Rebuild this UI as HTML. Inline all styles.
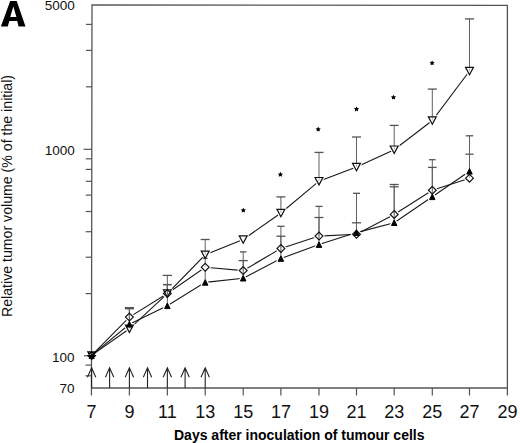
<!DOCTYPE html>
<html><head><meta charset="utf-8"><style>
html,body{margin:0;padding:0;background:#fff;}
body{width:520px;height:443px;overflow:hidden;position:relative;font-family:"Liberation Sans",sans-serif;}
svg{position:absolute;left:0;top:0;}
.t{position:absolute;white-space:nowrap;color:#111;line-height:1;}
</style></head><body>
<svg width="520" height="443" viewBox="0 0 520 443">
<path d="M91.45,395.6 L92.0,4.95 L507.4,5.3 L507.4,395.5" fill="none" stroke="#555" stroke-width="1.3"/>
<line x1="91.60" y1="388.00" x2="507.40" y2="388.00" stroke="#555" stroke-width="1.3"/>
<line x1="129.40" y1="388.00" x2="129.40" y2="395.50" stroke="#555" stroke-width="1.2"/>
<line x1="167.35" y1="388.00" x2="167.35" y2="395.50" stroke="#555" stroke-width="1.2"/>
<line x1="205.20" y1="388.00" x2="205.20" y2="395.50" stroke="#555" stroke-width="1.2"/>
<line x1="243.20" y1="388.00" x2="243.20" y2="395.50" stroke="#555" stroke-width="1.2"/>
<line x1="280.90" y1="388.00" x2="280.90" y2="395.50" stroke="#555" stroke-width="1.2"/>
<line x1="319.00" y1="388.00" x2="319.00" y2="395.50" stroke="#555" stroke-width="1.2"/>
<line x1="356.50" y1="388.00" x2="356.50" y2="395.50" stroke="#555" stroke-width="1.2"/>
<line x1="394.20" y1="388.00" x2="394.20" y2="395.50" stroke="#555" stroke-width="1.2"/>
<line x1="432.30" y1="388.00" x2="432.30" y2="395.50" stroke="#555" stroke-width="1.2"/>
<line x1="469.50" y1="388.00" x2="469.50" y2="395.50" stroke="#555" stroke-width="1.2"/>
<line x1="85.97" y1="24.40" x2="91.97" y2="24.40" stroke="#555" stroke-width="1.2"/>
<line x1="85.94" y1="50.40" x2="91.94" y2="50.40" stroke="#555" stroke-width="1.2"/>
<line x1="85.88" y1="86.80" x2="91.88" y2="86.80" stroke="#555" stroke-width="1.2"/>
<line x1="83.60" y1="149.30" x2="91.80" y2="149.30" stroke="#555" stroke-width="1.2"/>
<line x1="85.78" y1="158.80" x2="91.78" y2="158.80" stroke="#555" stroke-width="1.2"/>
<line x1="85.77" y1="169.40" x2="91.77" y2="169.40" stroke="#555" stroke-width="1.2"/>
<line x1="85.75" y1="181.30" x2="91.75" y2="181.30" stroke="#555" stroke-width="1.2"/>
<line x1="85.73" y1="195.10" x2="91.73" y2="195.10" stroke="#555" stroke-width="1.2"/>
<line x1="85.71" y1="211.50" x2="91.71" y2="211.50" stroke="#555" stroke-width="1.2"/>
<line x1="85.68" y1="231.70" x2="91.68" y2="231.70" stroke="#555" stroke-width="1.2"/>
<line x1="85.64" y1="257.20" x2="91.64" y2="257.20" stroke="#555" stroke-width="1.2"/>
<line x1="85.59" y1="293.60" x2="91.59" y2="293.60" stroke="#555" stroke-width="1.2"/>
<line x1="84.01" y1="355.80" x2="91.51" y2="355.80" stroke="#555" stroke-width="1.2"/>
<line x1="85.49" y1="365.10" x2="91.49" y2="365.10" stroke="#555" stroke-width="1.2"/>
<line x1="85.48" y1="375.80" x2="91.48" y2="375.80" stroke="#555" stroke-width="1.2"/>
<path d="M91.60,388.0 L91.60,367.8 M87.40,377.2 L91.60,367.8 L95.80,377.2" fill="none" stroke="#222" stroke-width="1.1"/>
<path d="M109.60,388.0 L109.60,367.8 M105.40,377.2 L109.60,367.8 L113.80,377.2" fill="none" stroke="#222" stroke-width="1.1"/>
<path d="M129.40,388.0 L129.40,367.8 M125.20,377.2 L129.40,367.8 L133.60,377.2" fill="none" stroke="#222" stroke-width="1.1"/>
<path d="M147.50,388.0 L147.50,367.8 M143.30,377.2 L147.50,367.8 L151.70,377.2" fill="none" stroke="#222" stroke-width="1.1"/>
<path d="M167.35,388.0 L167.35,367.8 M163.15,377.2 L167.35,367.8 L171.55,377.2" fill="none" stroke="#222" stroke-width="1.1"/>
<path d="M185.10,388.0 L185.10,367.8 M180.90,377.2 L185.10,367.8 L189.30,377.2" fill="none" stroke="#222" stroke-width="1.1"/>
<path d="M205.20,388.0 L205.20,367.8 M201.00,377.2 L205.20,367.8 L209.40,377.2" fill="none" stroke="#222" stroke-width="1.1"/>
<polyline points="91.60,355.40 129.40,328.80 167.35,293.60 205.20,254.80 243.20,239.50 280.90,213.00 319.00,181.20 356.50,167.00 394.20,149.70 432.30,120.50 469.50,71.00" fill="none" stroke="#1a1a1a" stroke-width="1.1"/>
<polyline points="91.60,355.40 129.40,317.10 167.35,293.50 205.20,267.20 243.20,270.60 280.90,248.40 319.00,236.10 356.50,234.30 394.20,214.40 432.30,190.25 469.50,178.20" fill="none" stroke="#1a1a1a" stroke-width="1.1"/>
<polyline points="91.60,355.40 129.40,324.30 167.35,305.80 205.20,282.40 243.20,278.20 280.90,258.50 319.00,244.60 356.50,232.60 394.20,222.70 432.30,196.80 469.50,171.30" fill="none" stroke="#1a1a1a" stroke-width="1.1"/>
<path d="M125.45,325.10 L133.35,325.10 L129.40,332.50 Z" fill="#fff" stroke="#fff" stroke-width="3.5" stroke-linejoin="round"/>
<path d="M163.40,289.90 L171.30,289.90 L167.35,297.30 Z" fill="#fff" stroke="#fff" stroke-width="3.5" stroke-linejoin="round"/>
<path d="M201.25,251.10 L209.15,251.10 L205.20,258.50 Z" fill="#fff" stroke="#fff" stroke-width="3.5" stroke-linejoin="round"/>
<path d="M239.25,235.80 L247.15,235.80 L243.20,243.20 Z" fill="#fff" stroke="#fff" stroke-width="3.5" stroke-linejoin="round"/>
<path d="M276.95,209.30 L284.85,209.30 L280.90,216.70 Z" fill="#fff" stroke="#fff" stroke-width="3.5" stroke-linejoin="round"/>
<path d="M315.05,177.50 L322.95,177.50 L319.00,184.90 Z" fill="#fff" stroke="#fff" stroke-width="3.5" stroke-linejoin="round"/>
<path d="M352.55,163.30 L360.45,163.30 L356.50,170.70 Z" fill="#fff" stroke="#fff" stroke-width="3.5" stroke-linejoin="round"/>
<path d="M390.25,146.00 L398.15,146.00 L394.20,153.40 Z" fill="#fff" stroke="#fff" stroke-width="3.5" stroke-linejoin="round"/>
<path d="M428.35,116.80 L436.25,116.80 L432.30,124.20 Z" fill="#fff" stroke="#fff" stroke-width="3.5" stroke-linejoin="round"/>
<path d="M465.55,67.30 L473.45,67.30 L469.50,74.70 Z" fill="#fff" stroke="#fff" stroke-width="3.5" stroke-linejoin="round"/>
<path d="M129.40,313.20 L133.30,317.10 L129.40,321.00 L125.50,317.10 Z" fill="#fff" stroke="#fff" stroke-width="3.5" stroke-linejoin="round"/>
<path d="M167.35,289.60 L171.25,293.50 L167.35,297.40 L163.45,293.50 Z" fill="#fff" stroke="#fff" stroke-width="3.5" stroke-linejoin="round"/>
<path d="M205.20,263.30 L209.10,267.20 L205.20,271.10 L201.30,267.20 Z" fill="#fff" stroke="#fff" stroke-width="3.5" stroke-linejoin="round"/>
<path d="M243.20,266.70 L247.10,270.60 L243.20,274.50 L239.30,270.60 Z" fill="#fff" stroke="#fff" stroke-width="3.5" stroke-linejoin="round"/>
<path d="M280.90,244.50 L284.80,248.40 L280.90,252.30 L277.00,248.40 Z" fill="#fff" stroke="#fff" stroke-width="3.5" stroke-linejoin="round"/>
<path d="M319.00,232.20 L322.90,236.10 L319.00,240.00 L315.10,236.10 Z" fill="#fff" stroke="#fff" stroke-width="3.5" stroke-linejoin="round"/>
<path d="M356.50,230.40 L360.40,234.30 L356.50,238.20 L352.60,234.30 Z" fill="#fff" stroke="#fff" stroke-width="3.5" stroke-linejoin="round"/>
<path d="M394.20,210.50 L398.10,214.40 L394.20,218.30 L390.30,214.40 Z" fill="#fff" stroke="#fff" stroke-width="3.5" stroke-linejoin="round"/>
<path d="M432.30,186.35 L436.20,190.25 L432.30,194.15 L428.40,190.25 Z" fill="#fff" stroke="#fff" stroke-width="3.5" stroke-linejoin="round"/>
<path d="M469.50,174.30 L473.40,178.20 L469.50,182.10 L465.60,178.20 Z" fill="#fff" stroke="#fff" stroke-width="3.5" stroke-linejoin="round"/>
<path d="M129.40,321.50 L132.15,327.10 L126.65,327.10 Z" fill="#fff" stroke="#fff" stroke-width="3.5" stroke-linejoin="round"/>
<path d="M167.35,303.00 L170.10,308.60 L164.60,308.60 Z" fill="#fff" stroke="#fff" stroke-width="3.5" stroke-linejoin="round"/>
<path d="M205.20,279.60 L207.95,285.20 L202.45,285.20 Z" fill="#fff" stroke="#fff" stroke-width="3.5" stroke-linejoin="round"/>
<path d="M243.20,275.40 L245.95,281.00 L240.45,281.00 Z" fill="#fff" stroke="#fff" stroke-width="3.5" stroke-linejoin="round"/>
<path d="M280.90,255.70 L283.65,261.30 L278.15,261.30 Z" fill="#fff" stroke="#fff" stroke-width="3.5" stroke-linejoin="round"/>
<path d="M319.00,241.80 L321.75,247.40 L316.25,247.40 Z" fill="#fff" stroke="#fff" stroke-width="3.5" stroke-linejoin="round"/>
<path d="M356.50,229.80 L359.25,235.40 L353.75,235.40 Z" fill="#fff" stroke="#fff" stroke-width="3.5" stroke-linejoin="round"/>
<path d="M394.20,219.90 L396.95,225.50 L391.45,225.50 Z" fill="#fff" stroke="#fff" stroke-width="3.5" stroke-linejoin="round"/>
<path d="M432.30,194.00 L435.05,199.60 L429.55,199.60 Z" fill="#fff" stroke="#fff" stroke-width="3.5" stroke-linejoin="round"/>
<path d="M469.50,168.50 L472.25,174.10 L466.75,174.10 Z" fill="#fff" stroke="#fff" stroke-width="3.5" stroke-linejoin="round"/>
<line x1="129.40" y1="308.60" x2="129.40" y2="325.10" stroke="#606060" stroke-width="1.0"/>
<line x1="129.40" y1="325.10" x2="129.40" y2="328.80" stroke="#bbb" stroke-width="1.0"/>
<line x1="124.90" y1="308.60" x2="133.90" y2="308.60" stroke="#555" stroke-width="1.3"/>
<line x1="167.35" y1="275.40" x2="167.35" y2="289.90" stroke="#606060" stroke-width="1.0"/>
<line x1="167.35" y1="289.90" x2="167.35" y2="293.60" stroke="#bbb" stroke-width="1.0"/>
<line x1="162.65" y1="275.40" x2="172.05" y2="275.40" stroke="#555" stroke-width="1.3"/>
<line x1="205.20" y1="239.50" x2="205.20" y2="251.10" stroke="#606060" stroke-width="1.0"/>
<line x1="205.20" y1="251.10" x2="205.20" y2="254.80" stroke="#bbb" stroke-width="1.0"/>
<line x1="200.70" y1="239.50" x2="209.70" y2="239.50" stroke="#555" stroke-width="1.3"/>
<line x1="280.90" y1="196.90" x2="280.90" y2="209.30" stroke="#606060" stroke-width="1.0"/>
<line x1="280.90" y1="209.30" x2="280.90" y2="213.00" stroke="#bbb" stroke-width="1.0"/>
<line x1="276.40" y1="196.90" x2="285.40" y2="196.90" stroke="#555" stroke-width="1.3"/>
<line x1="319.00" y1="152.40" x2="319.00" y2="177.50" stroke="#606060" stroke-width="1.0"/>
<line x1="319.00" y1="177.50" x2="319.00" y2="181.20" stroke="#bbb" stroke-width="1.0"/>
<line x1="314.50" y1="152.40" x2="323.50" y2="152.40" stroke="#555" stroke-width="1.3"/>
<line x1="356.50" y1="137.00" x2="356.50" y2="163.30" stroke="#606060" stroke-width="1.0"/>
<line x1="356.50" y1="163.30" x2="356.50" y2="167.00" stroke="#bbb" stroke-width="1.0"/>
<line x1="352.00" y1="137.00" x2="361.00" y2="137.00" stroke="#555" stroke-width="1.3"/>
<line x1="394.20" y1="125.40" x2="394.20" y2="146.00" stroke="#606060" stroke-width="1.0"/>
<line x1="394.20" y1="146.00" x2="394.20" y2="149.70" stroke="#bbb" stroke-width="1.0"/>
<line x1="389.70" y1="125.40" x2="398.70" y2="125.40" stroke="#555" stroke-width="1.3"/>
<line x1="432.30" y1="89.10" x2="432.30" y2="116.80" stroke="#606060" stroke-width="1.0"/>
<line x1="432.30" y1="116.80" x2="432.30" y2="120.50" stroke="#bbb" stroke-width="1.0"/>
<line x1="427.80" y1="89.10" x2="436.80" y2="89.10" stroke="#555" stroke-width="1.3"/>
<line x1="469.50" y1="18.90" x2="469.50" y2="67.30" stroke="#606060" stroke-width="1.0"/>
<line x1="469.50" y1="67.30" x2="469.50" y2="71.00" stroke="#bbb" stroke-width="1.0"/>
<line x1="465.00" y1="18.90" x2="474.00" y2="18.90" stroke="#555" stroke-width="1.3"/>
<line x1="129.40" y1="307.60" x2="129.40" y2="313.20" stroke="#606060" stroke-width="1.0"/>
<line x1="129.40" y1="313.20" x2="129.40" y2="317.10" stroke="#bbb" stroke-width="1.0"/>
<line x1="124.90" y1="307.60" x2="133.90" y2="307.60" stroke="#555" stroke-width="1.3"/>
<line x1="167.35" y1="284.60" x2="167.35" y2="289.60" stroke="#606060" stroke-width="1.0"/>
<line x1="167.35" y1="289.60" x2="167.35" y2="293.50" stroke="#bbb" stroke-width="1.0"/>
<line x1="163.05" y1="284.60" x2="171.65" y2="284.60" stroke="#555" stroke-width="1.3"/>
<line x1="205.20" y1="258.30" x2="205.20" y2="263.30" stroke="#606060" stroke-width="1.0"/>
<line x1="205.20" y1="263.30" x2="205.20" y2="267.20" stroke="#bbb" stroke-width="1.0"/>
<line x1="202.70" y1="258.30" x2="207.70" y2="258.30" stroke="#555" stroke-width="1.3"/>
<line x1="243.20" y1="251.90" x2="243.20" y2="266.70" stroke="#606060" stroke-width="1.0"/>
<line x1="243.20" y1="266.70" x2="243.20" y2="270.60" stroke="#bbb" stroke-width="1.0"/>
<line x1="240.00" y1="251.90" x2="246.40" y2="251.90" stroke="#555" stroke-width="1.3"/>
<line x1="280.90" y1="226.30" x2="280.90" y2="244.50" stroke="#606060" stroke-width="1.0"/>
<line x1="280.90" y1="244.50" x2="280.90" y2="248.40" stroke="#bbb" stroke-width="1.0"/>
<line x1="277.20" y1="226.30" x2="284.60" y2="226.30" stroke="#555" stroke-width="1.3"/>
<line x1="319.00" y1="206.40" x2="319.00" y2="232.20" stroke="#606060" stroke-width="1.0"/>
<line x1="319.00" y1="232.20" x2="319.00" y2="236.10" stroke="#bbb" stroke-width="1.0"/>
<line x1="315.40" y1="206.40" x2="322.60" y2="206.40" stroke="#555" stroke-width="1.3"/>
<line x1="356.50" y1="193.30" x2="356.50" y2="230.40" stroke="#606060" stroke-width="1.0"/>
<line x1="356.50" y1="230.40" x2="356.50" y2="234.30" stroke="#bbb" stroke-width="1.0"/>
<line x1="353.00" y1="193.30" x2="360.00" y2="193.30" stroke="#555" stroke-width="1.3"/>
<line x1="394.20" y1="184.50" x2="394.20" y2="210.50" stroke="#606060" stroke-width="1.0"/>
<line x1="394.20" y1="210.50" x2="394.20" y2="214.40" stroke="#bbb" stroke-width="1.0"/>
<line x1="389.70" y1="184.50" x2="398.70" y2="184.50" stroke="#555" stroke-width="1.3"/>
<line x1="432.30" y1="159.70" x2="432.30" y2="186.35" stroke="#606060" stroke-width="1.0"/>
<line x1="432.30" y1="186.35" x2="432.30" y2="190.25" stroke="#bbb" stroke-width="1.0"/>
<line x1="429.00" y1="159.70" x2="435.60" y2="159.70" stroke="#555" stroke-width="1.3"/>
<line x1="469.50" y1="154.20" x2="469.50" y2="174.30" stroke="#606060" stroke-width="1.0"/>
<line x1="469.50" y1="174.30" x2="469.50" y2="178.20" stroke="#bbb" stroke-width="1.0"/>
<line x1="465.40" y1="154.20" x2="473.60" y2="154.20" stroke="#555" stroke-width="1.3"/>
<line x1="129.40" y1="308.60" x2="129.40" y2="321.50" stroke="#606060" stroke-width="1.0"/>
<line x1="129.40" y1="321.50" x2="129.40" y2="324.30" stroke="#bbb" stroke-width="1.0"/>
<line x1="124.90" y1="308.60" x2="133.90" y2="308.60" stroke="#555" stroke-width="1.3"/>
<line x1="167.35" y1="284.60" x2="167.35" y2="303.00" stroke="#606060" stroke-width="1.0"/>
<line x1="167.35" y1="303.00" x2="167.35" y2="305.80" stroke="#bbb" stroke-width="1.0"/>
<line x1="163.05" y1="284.60" x2="171.65" y2="284.60" stroke="#555" stroke-width="1.3"/>
<line x1="205.20" y1="270.50" x2="205.20" y2="279.60" stroke="#606060" stroke-width="1.0"/>
<line x1="205.20" y1="279.60" x2="205.20" y2="282.40" stroke="#bbb" stroke-width="1.0"/>
<line x1="243.20" y1="260.60" x2="243.20" y2="275.40" stroke="#606060" stroke-width="1.0"/>
<line x1="243.20" y1="275.40" x2="243.20" y2="278.20" stroke="#bbb" stroke-width="1.0"/>
<line x1="238.60" y1="260.60" x2="247.80" y2="260.60" stroke="#555" stroke-width="1.3"/>
<line x1="280.90" y1="236.20" x2="280.90" y2="255.70" stroke="#606060" stroke-width="1.0"/>
<line x1="280.90" y1="255.70" x2="280.90" y2="258.50" stroke="#bbb" stroke-width="1.0"/>
<line x1="276.40" y1="236.20" x2="285.40" y2="236.20" stroke="#555" stroke-width="1.3"/>
<line x1="319.00" y1="217.50" x2="319.00" y2="241.80" stroke="#606060" stroke-width="1.0"/>
<line x1="319.00" y1="241.80" x2="319.00" y2="244.60" stroke="#bbb" stroke-width="1.0"/>
<line x1="314.50" y1="217.50" x2="323.50" y2="217.50" stroke="#555" stroke-width="1.3"/>
<line x1="356.50" y1="222.80" x2="356.50" y2="229.80" stroke="#606060" stroke-width="1.0"/>
<line x1="356.50" y1="229.80" x2="356.50" y2="232.60" stroke="#bbb" stroke-width="1.0"/>
<line x1="351.90" y1="222.80" x2="361.10" y2="222.80" stroke="#555" stroke-width="1.3"/>
<line x1="394.20" y1="186.80" x2="394.20" y2="219.90" stroke="#606060" stroke-width="1.0"/>
<line x1="394.20" y1="219.90" x2="394.20" y2="222.70" stroke="#bbb" stroke-width="1.0"/>
<line x1="389.70" y1="186.80" x2="398.70" y2="186.80" stroke="#555" stroke-width="1.3"/>
<line x1="432.30" y1="167.40" x2="432.30" y2="194.00" stroke="#606060" stroke-width="1.0"/>
<line x1="432.30" y1="194.00" x2="432.30" y2="196.80" stroke="#bbb" stroke-width="1.0"/>
<line x1="427.95" y1="167.40" x2="436.65" y2="167.40" stroke="#555" stroke-width="1.3"/>
<line x1="469.50" y1="135.80" x2="469.50" y2="168.50" stroke="#606060" stroke-width="1.0"/>
<line x1="469.50" y1="168.50" x2="469.50" y2="171.30" stroke="#bbb" stroke-width="1.0"/>
<line x1="465.80" y1="135.80" x2="473.20" y2="135.80" stroke="#555" stroke-width="1.3"/>
<path d="M129.40,313.20 L133.30,317.10 L129.40,321.00 L125.50,317.10 Z" fill="none" stroke="#111" stroke-width="1.2"/>
<path d="M167.35,289.60 L171.25,293.50 L167.35,297.40 L163.45,293.50 Z" fill="none" stroke="#111" stroke-width="1.2"/>
<path d="M205.20,263.30 L209.10,267.20 L205.20,271.10 L201.30,267.20 Z" fill="none" stroke="#111" stroke-width="1.2"/>
<path d="M243.20,266.70 L247.10,270.60 L243.20,274.50 L239.30,270.60 Z" fill="none" stroke="#111" stroke-width="1.2"/>
<path d="M280.90,244.50 L284.80,248.40 L280.90,252.30 L277.00,248.40 Z" fill="none" stroke="#111" stroke-width="1.2"/>
<path d="M319.00,232.20 L322.90,236.10 L319.00,240.00 L315.10,236.10 Z" fill="none" stroke="#111" stroke-width="1.2"/>
<path d="M356.50,230.40 L360.40,234.30 L356.50,238.20 L352.60,234.30 Z" fill="none" stroke="#111" stroke-width="1.2"/>
<path d="M394.20,210.50 L398.10,214.40 L394.20,218.30 L390.30,214.40 Z" fill="none" stroke="#111" stroke-width="1.2"/>
<path d="M432.30,186.35 L436.20,190.25 L432.30,194.15 L428.40,190.25 Z" fill="none" stroke="#111" stroke-width="1.2"/>
<path d="M469.50,174.30 L473.40,178.20 L469.50,182.10 L465.60,178.20 Z" fill="none" stroke="#111" stroke-width="1.2"/>
<path d="M125.45,325.10 L133.35,325.10 L129.40,332.50 Z" fill="none" stroke="#111" stroke-width="1.2"/>
<path d="M163.40,289.90 L171.30,289.90 L167.35,297.30 Z" fill="none" stroke="#111" stroke-width="1.2"/>
<path d="M201.25,251.10 L209.15,251.10 L205.20,258.50 Z" fill="none" stroke="#111" stroke-width="1.2"/>
<path d="M239.25,235.80 L247.15,235.80 L243.20,243.20 Z" fill="none" stroke="#111" stroke-width="1.2"/>
<path d="M276.95,209.30 L284.85,209.30 L280.90,216.70 Z" fill="none" stroke="#111" stroke-width="1.2"/>
<path d="M315.05,177.50 L322.95,177.50 L319.00,184.90 Z" fill="none" stroke="#111" stroke-width="1.2"/>
<path d="M352.55,163.30 L360.45,163.30 L356.50,170.70 Z" fill="none" stroke="#111" stroke-width="1.2"/>
<path d="M390.25,146.00 L398.15,146.00 L394.20,153.40 Z" fill="none" stroke="#111" stroke-width="1.2"/>
<path d="M428.35,116.80 L436.25,116.80 L432.30,124.20 Z" fill="none" stroke="#111" stroke-width="1.2"/>
<path d="M465.55,67.30 L473.45,67.30 L469.50,74.70 Z" fill="none" stroke="#111" stroke-width="1.2"/>
<path d="M129.40,321.50 L132.15,327.10 L126.65,327.10 Z" fill="#000" stroke="#000" stroke-width="1.0"/>
<path d="M167.35,303.00 L170.10,308.60 L164.60,308.60 Z" fill="#000" stroke="#000" stroke-width="1.0"/>
<path d="M205.20,279.60 L207.95,285.20 L202.45,285.20 Z" fill="#000" stroke="#000" stroke-width="1.0"/>
<path d="M243.20,275.40 L245.95,281.00 L240.45,281.00 Z" fill="#000" stroke="#000" stroke-width="1.0"/>
<path d="M280.90,255.70 L283.65,261.30 L278.15,261.30 Z" fill="#000" stroke="#000" stroke-width="1.0"/>
<path d="M319.00,241.80 L321.75,247.40 L316.25,247.40 Z" fill="#000" stroke="#000" stroke-width="1.0"/>
<path d="M356.50,229.80 L359.25,235.40 L353.75,235.40 Z" fill="#000" stroke="#000" stroke-width="1.0"/>
<path d="M394.20,219.90 L396.95,225.50 L391.45,225.50 Z" fill="#000" stroke="#000" stroke-width="1.0"/>
<path d="M432.30,194.00 L435.05,199.60 L429.55,199.60 Z" fill="#000" stroke="#000" stroke-width="1.0"/>
<path d="M469.50,168.50 L472.25,174.10 L466.75,174.10 Z" fill="#000" stroke="#000" stroke-width="1.0"/>
<path d="M87.89999999999999,351.9 L95.49999999999999,351.9 L91.69999999999999,358.9 Z M91.69999999999999,351.7 L95.49999999999999,355.5 L91.69999999999999,359.3 L87.89999999999999,355.5 Z" fill="none" stroke="#000" stroke-width="1.3"/>
<path d="M91.69999999999999,353.9 L94.89999999999999,358.9 L88.49999999999999,358.9 Z" fill="#000"/>
<circle cx="91.69999999999999" cy="356.3" r="2.1" fill="#000"/>
<polygon points="243.35,207.65 244.16,209.29 245.97,209.55 244.66,210.82 244.97,212.62 243.35,211.78 241.73,212.62 242.04,210.82 240.73,209.55 242.54,209.29" fill="#000"/>
<polygon points="280.40,171.75 281.21,173.39 283.02,173.65 281.71,174.92 282.02,176.72 280.40,175.88 278.78,176.72 279.09,174.92 277.78,173.65 279.59,173.39" fill="#000"/>
<polygon points="318.20,126.55 319.01,128.19 320.82,128.45 319.51,129.72 319.82,131.52 318.20,130.68 316.58,131.52 316.89,129.72 315.58,128.45 317.39,128.19" fill="#000"/>
<polygon points="356.50,106.45 357.31,108.09 359.12,108.35 357.81,109.62 358.12,111.42 356.50,110.58 354.88,111.42 355.19,109.62 353.88,108.35 355.69,108.09" fill="#000"/>
<polygon points="393.50,94.65 394.31,96.29 396.12,96.55 394.81,97.82 395.12,99.62 393.50,98.78 391.88,99.62 392.19,97.82 390.88,96.55 392.69,96.29" fill="#000"/>
<polygon points="432.10,60.35 432.91,61.99 434.72,62.25 433.41,63.52 433.72,65.32 432.10,64.47 430.48,65.32 430.79,63.52 429.48,62.25 431.29,61.99" fill="#000"/>
<path d="M10.2,1.1 L16.7,1.1 L25.5,26.6 L18.6,26.6 L17.2,21.0 L9.3,21.0 L7.8,26.6 L0.9,26.6 Z M13.35,6.6 L16.4,17.0 L10.2,17.0 Z" fill="#000" fill-rule="evenodd"/>
</svg>
<div class="t" style="left:20px;width:54.9px;text-align:right;top:-0.9px;font-size:13.5px;">5000</div>
<div class="t" style="left:20px;width:54.9px;text-align:right;top:144.3px;font-size:13.5px;">1000</div>
<div class="t" style="left:20px;width:54.6px;text-align:right;top:351.3px;font-size:13.5px;">100</div>
<div class="t" style="left:20px;width:54.6px;text-align:right;top:382.0px;font-size:13.5px;">70</div>
<div class="t" style="left:61.6px;width:60px;text-align:center;top:403.0px;font-size:18px;">7</div>
<div class="t" style="left:99.4px;width:60px;text-align:center;top:403.0px;font-size:18px;">9</div>
<div class="t" style="left:137.3px;width:60px;text-align:center;top:403.0px;font-size:18px;">11</div>
<div class="t" style="left:175.2px;width:60px;text-align:center;top:403.0px;font-size:18px;">13</div>
<div class="t" style="left:213.2px;width:60px;text-align:center;top:403.0px;font-size:18px;">15</div>
<div class="t" style="left:250.9px;width:60px;text-align:center;top:403.0px;font-size:18px;">17</div>
<div class="t" style="left:289.0px;width:60px;text-align:center;top:403.0px;font-size:18px;">19</div>
<div class="t" style="left:326.5px;width:60px;text-align:center;top:403.0px;font-size:18px;">21</div>
<div class="t" style="left:364.2px;width:60px;text-align:center;top:403.0px;font-size:18px;">23</div>
<div class="t" style="left:402.3px;width:60px;text-align:center;top:403.0px;font-size:18px;">25</div>
<div class="t" style="left:439.5px;width:60px;text-align:center;top:403.0px;font-size:18px;">27</div>
<div class="t" style="left:477.4px;width:60px;text-align:center;top:403.0px;font-size:18px;">29</div>
<div class="t" style="left:174px;top:428px;font-size:14px;font-weight:bold;color:#000">Days after inoculation of tumour cells</div>
<div class="t" style="left:0px;top:317px;font-size:14.15px;transform-origin:0 0;transform:rotate(-90deg);">Relative tumor volume (% of the initial)</div>
</body></html>
